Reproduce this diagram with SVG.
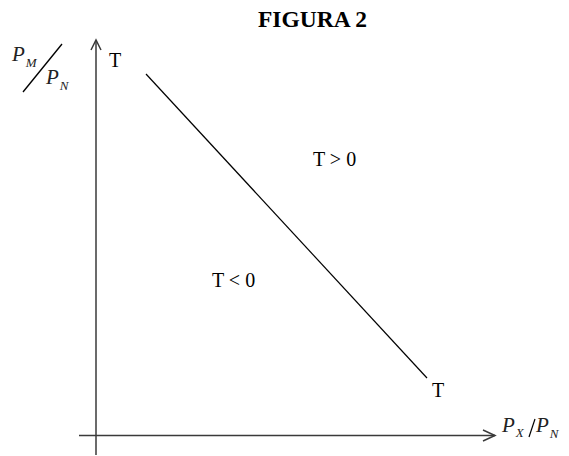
<svg xmlns="http://www.w3.org/2000/svg" width="569" height="456" viewBox="0 0 569 456">
<style>
.t{font-family:"Liberation Serif",serif;fill:#000}
.ax{stroke:#3a3a3a;stroke-width:1.5;fill:none}
.lbl{font-family:"Liberation Serif",serif;font-style:italic;fill:#222}
</style>
<rect width="569" height="456" fill="#fff"/>
<text class="t" x="258" y="27" font-size="23.5" font-weight="bold">FIGURA 2</text>
<g id="axes">
<line class="ax" x1="96" y1="40" x2="96" y2="455"/>
<polyline class="ax" points="91,50 96,40 101,50"/>
<line class="ax" x1="79" y1="435.5" x2="495" y2="435.5"/>
<polyline class="ax" points="483,430 495,435.5 483,441"/>
</g>
<g id="ylabel">
<text class="lbl" x="12" y="61" font-size="21">P<tspan font-size="13" dx="1" dy="6">M</tspan></text>
<line x1="23" y1="92" x2="62" y2="44" stroke="#000" stroke-width="1.3"/>
<text class="lbl" x="46" y="84" font-size="21">P<tspan font-size="13" dx="1" dy="6">N</tspan></text>
</g>
<g id="xlabel">
<text class="lbl" x="502" y="432" font-size="21">P<tspan font-size="13" dx="1" dy="5">X</tspan></text>
<line x1="529" y1="437" x2="535" y2="419" stroke="#000" stroke-width="1.2"/>
<text class="lbl" x="536" y="432" font-size="21">P<tspan font-size="13" dx="1" dy="6">N</tspan></text>
</g>
<g id="curve">
<line x1="146" y1="74" x2="427" y2="378" stroke="#000" stroke-width="1.2"/>
<text class="t" x="109" y="67" font-size="20">T</text>
<text class="t" x="432" y="397" font-size="20">T</text>
</g>
<text class="t" x="313" y="166" font-size="20">T &gt; 0</text>
<text class="t" x="212" y="287" font-size="20">T &lt; 0</text>
</svg>
